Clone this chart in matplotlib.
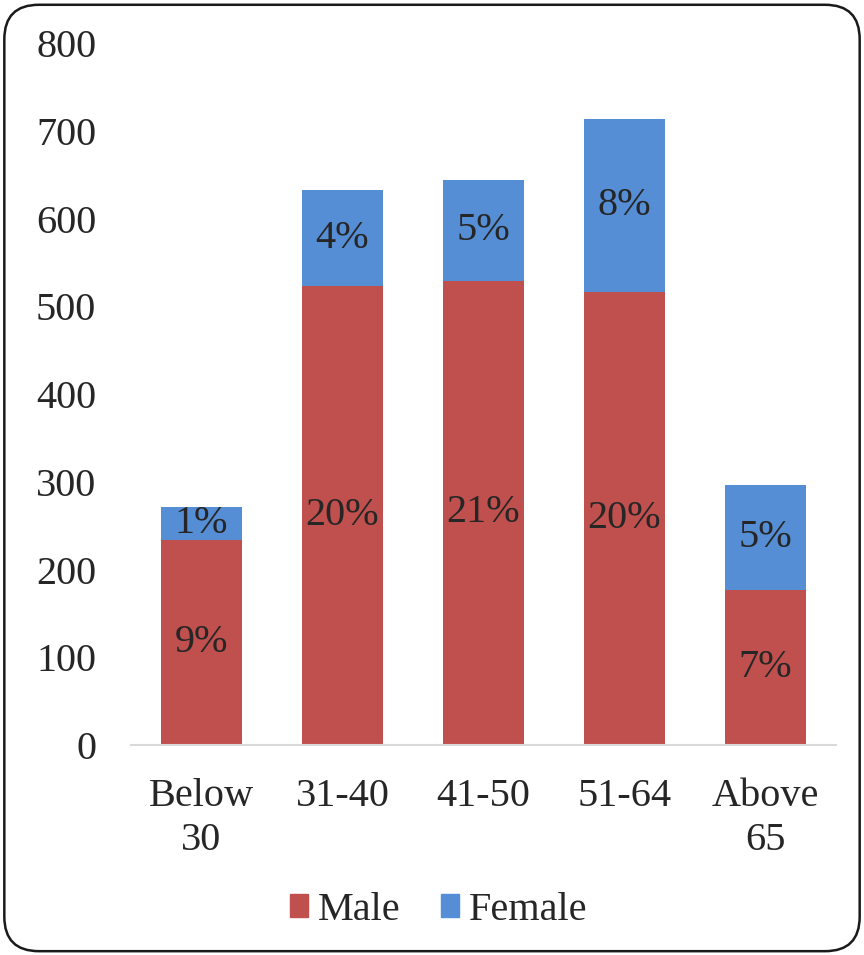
import matplotlib.pyplot as plt
from matplotlib.patches import FancyBboxPatch, Patch

categories = ['Below\n30', '31-40', '41-50', '51-64', 'Above\n65']
male = [234, 523, 529, 516, 177]
female = [37, 109, 115, 197, 119]
male_pct = ['9%', '20%', '21%', '20%', '7%']
female_pct = ['1%', '4%', '5%', '8%', '5%']

male_color = '#C0504D'
female_color = '#558ED5'
text_color = '#262626'

plt.rcParams['font.family'] = ['Liberation Serif', 'DejaVu Serif']

fig = plt.figure(figsize=(8.64, 9.55), dpi=100)
ax = fig.add_axes([0.1516, 0.2199, 0.816, 0.735])

x = range(len(categories))
width = 0.57
ax.bar(x, male, width, color=male_color, label='Male', zorder=2)
ax.bar(x, female, width, bottom=male, color=female_color, label='Female', zorder=2)

# percentage labels centred in each segment
for i in x:
    ax.text(i, male[i] / 2, male_pct[i], ha='center', va='center',
            fontsize=29, color=text_color)
    ax.text(i, male[i] + female[i] / 2, female_pct[i], ha='center', va='center',
            fontsize=29, color=text_color)

ax.set_xlim(-0.5, 4.5)
ax.set_ylim(0, 800)
ax.set_yticks(range(0, 801, 100))
ax.set_xticks(list(x))
ax.set_xticklabels(categories, fontsize=29, color=text_color, linespacing=1.25)
ax.tick_params(axis='y', labelsize=29, labelcolor=text_color, length=0, pad=25)
ax.tick_params(axis='x', length=0, pad=24)

for side in ['top', 'right', 'left']:
    ax.spines[side].set_visible(False)
ax.spines['bottom'].set_color('#D9D9D9')
ax.spines['bottom'].set_linewidth(1.5)

handles = [Patch(color=male_color), Patch(color=female_color)]
fig.legend(handles, ['Male', 'Female'], loc='center', bbox_to_anchor=(0.508, 0.047),
           ncol=2, frameon=False, fontsize=29, handlelength=0.45, handleheight=0.5,
           handletextpad=0.25, columnspacing=1.0, labelcolor=text_color)

border = FancyBboxPatch((0.005, 0.004), 0.99, 0.991, boxstyle='round,pad=0,rounding_size=0.04',
                        transform=fig.transFigure, fill=False, edgecolor='#1a1a1a',
                        linewidth=1.8, mutation_aspect=864 / 955)
fig.patches.append(border)

fig.savefig('out.png', dpi=100)
